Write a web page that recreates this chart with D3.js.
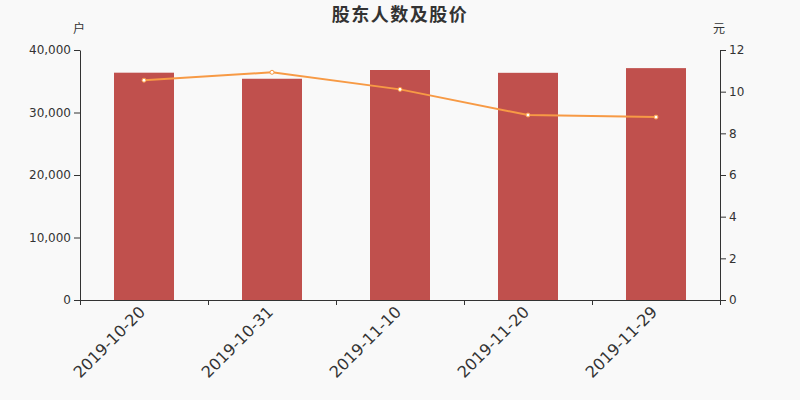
<!DOCTYPE html>
<html><head><meta charset="utf-8">
<script src="https://cdn.jsdelivr.net/npm/d3@7/dist/d3.min.js"></script>
<style>
body{margin:0;background:#f9f9f9;}
svg{display:block;font-family:"DejaVu Sans",sans-serif;}
</style></head><body>
<svg id="c" width="800" height="400"></svg>
<script>
const categories = ["2019-10-20","2019-10-31","2019-11-10","2019-11-20","2019-11-29"];
const holders = [36370, 35400, 36800, 36350, 37100];
const prices = [10.55, 10.93, 10.11, 8.88, 8.78];
const leftTicks = [0, 10000, 20000, 30000, 40000];
const rightTicks = [0, 2, 4, 6, 8, 10, 12];

const svg = d3.select("#c");
const m = {l:80, r:720, t:50, b:300};
const x = d3.scaleBand().domain(categories).range([m.l, m.r]);
const yL = d3.scaleLinear().domain([0, 40000]).range([m.b, m.t]);
const yR = d3.scaleLinear().domain([0, 12]).range([m.b, m.t]);

svg.append("rect").attr("width",800).attr("height",400).attr("fill","#f9f9f9");

svg.append("text").attr("x",400).attr("y",21).attr("text-anchor","middle")
  .attr("font-family","'Noto Sans CJK SC',sans-serif").attr("font-weight","bold")
  .attr("font-size",18).attr("letter-spacing","1.5px").attr("fill","#333").text("股东人数及股价");
svg.append("text").attr("x",79).attr("y",33).attr("text-anchor","middle")
  .attr("font-family","'Noto Sans CJK SC',sans-serif").attr("font-size",12).attr("fill","#333").text("户");
svg.append("text").attr("x",719).attr("y",33).attr("text-anchor","middle")
  .attr("font-family","'Noto Sans CJK SC',sans-serif").attr("font-size",12).attr("fill","#333").text("元");

const bw = 60;
svg.append("g").selectAll("rect").data(categories).join("rect")
  .attr("x", d => x(d) + x.bandwidth()/2 - bw/2)
  .attr("width", bw)
  .attr("y", (d,i) => yL(holders[i]))
  .attr("height", (d,i) => yL(0) - yL(holders[i]))
  .attr("fill", "#c0504d");

const line = d3.line().x((d,i) => x(categories[i]) + x.bandwidth()/2).y(d => yR(d));
svg.append("path").datum(prices).attr("d", line).attr("fill","none")
  .attr("stroke","#f79a45").attr("stroke-width",2);
svg.append("g").selectAll("circle").data(prices).join("circle")
  .attr("cx",(d,i) => x(categories[i]) + x.bandwidth()/2)
  .attr("cy", d => yR(d)).attr("r",2)
  .attr("fill","#fff").attr("stroke","#f79a45").attr("stroke-width",1);

const fmt = d3.format(",");
const gL = svg.append("g").attr("transform",`translate(${m.l},0)`)
  .call(d3.axisLeft(yL).tickValues(leftTicks).tickFormat(fmt).tickSizeOuter(0));
const gR = svg.append("g").attr("transform",`translate(${m.r},0)`)
  .call(d3.axisRight(yR).tickValues(rightTicks).tickSizeOuter(0));
const gX = svg.append("g").attr("transform",`translate(0,${m.b})`)
  .call(d3.axisBottom(x).tickSize(0).tickSizeOuter(0));
const bounds = categories.map(d => x(d)).concat([m.r]);
svg.append("g").selectAll("line").data(bounds).join("line")
  .attr("x1",d=>d+0.5).attr("x2",d=>d+0.5).attr("y1",m.b).attr("y2",m.b+5)
  .attr("stroke","#333");

[gL,gR,gX].forEach(g => {
  g.selectAll("path").attr("stroke","#333");
  g.selectAll("line").attr("stroke","#333");
  g.selectAll("text").attr("fill","#333").attr("font-size",12).attr("font-family","'DejaVu Sans',sans-serif");
});
gX.selectAll("text").attr("font-size",16)
  .attr("text-anchor","end").attr("dy","0.35em")
  .attr("transform","translate(-4,7) rotate(-45)");
</script>
</body></html>
